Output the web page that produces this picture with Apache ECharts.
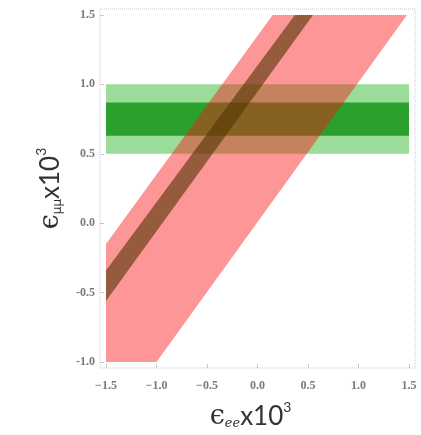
<!DOCTYPE html>
<html>
<head>
<meta charset="utf-8">
<script src="https://cdn.jsdelivr.net/npm/echarts@6/dist/echarts.min.js"></script>
<style>html,body{margin:0;padding:0;background:#fff}#c{width:421px;height:435px}</style>
</head>
<body>
<div id="c"></div>
<script>
// ---- data ----
const xTicks = [-1.5, -1.0, -0.5, 0.0, 0.5, 1.0, 1.5];
const yTicks = [-1.0, -0.5, 0.0, 0.5, 1.0, 1.5];
const xRange = [-1.5594, 1.5594];
const yRange = [-1.0426, 1.5426];
const bandX = [-1.5, 1.5];
const lightGreenBand = [0.5, 1.0];
const darkGreenBand = [0.63, 0.87];
const pinkRegion = [[-1.5, -1.0], [-1.0, -1.0], [1.48, 1.5], [0.15, 1.5], [-1.5, -0.15]];
const brownRegion = [[-1.5, -0.56], [0.55, 1.5], [0.37, 1.5], [-1.5, -0.34]];

function polySeries(name, pts, color, z) {
  return {
    name: name, type: 'custom', z: z,
    data: pts,
    renderItem: function (params, api) {
      if (params.dataIndex !== 0) return null;
      return {
        type: 'polygon',
        shape: { points: pts.map(p => api.coord(p)) },
        style: { fill: color }
      };
    },
    silent: true
  };
}
function bandPts(yb) {
  return [[bandX[0], yb[0]], [bandX[1], yb[0]], [bandX[1], yb[1]], [bandX[0], yb[1]]];
}

const chart = echarts.init(document.getElementById('c'), null, { renderer: 'canvas' });
const tickFont = { fontFamily: 'Liberation Serif', fontSize: 12, fontWeight: 'bold', color: '#7a7a7a' };
chart.setOption({
  animation: false,
  grid: { left: 100, right: 6, top: 9, bottom: 62, show: true, borderColor: '#c8c8c8', borderWidth: 1, borderType: 'dotted', backgroundColor: 'transparent' },
  xAxis: {
    type: 'value', min: xRange[0], max: xRange[1],
    axisLine: { show: false, onZero: false },
    splitLine: { show: false },
    axisTick: { show: true, inside: true, length: 4, customValues: xTicks, lineStyle: { color: '#c8c8c8' } },
    axisLabel: Object.assign({ customValues: xTicks, margin: 12, formatter: v => (v < 0 ? '−' : '') + Math.abs(v).toFixed(1) }, tickFont),
    name: '{e|ϵ}{s|ee}{t|x10}{p|3}',
    nameLocation: 'middle', nameGap: 32,
    nameTextStyle: {
      padding: [0, 14, 0, 0],
      rich: {
        e: { fontFamily: 'DejaVu Serif', fontSize: 27, color: '#333', lineHeight: 30, verticalAlign: 'bottom' },
        s: { fontFamily: 'DejaVu Serif', fontStyle: 'italic', fontSize: 13, color: '#333', lineHeight: 13, verticalAlign: 'bottom' },
        t: { fontFamily: 'Lato', fontSize: 26, color: '#333', lineHeight: 30, verticalAlign: 'bottom' },
        p: { fontFamily: 'Lato', fontSize: 14, color: '#333', lineHeight: 14, verticalAlign: 'top' }
      }
    }
  },
  yAxis: {
    type: 'value', min: yRange[0], max: yRange[1],
    axisLine: { show: false, onZero: false },
    splitLine: { show: false },
    axisTick: { show: true, inside: true, length: 4, customValues: yTicks, lineStyle: { color: '#c8c8c8' } },
    axisLabel: Object.assign({ customValues: yTicks, margin: 5, formatter: v => v.toFixed(1) }, tickFont),
    name: '{e|ϵ}{s|μμ}{t|x10}{p|3}',
    nameLocation: 'middle', nameGap: 36, nameRotate: 90,
    nameTextStyle: {
      rich: {
        e: { fontFamily: 'DejaVu Serif', fontSize: 27, color: '#333', lineHeight: 30, verticalAlign: 'bottom' },
        s: { fontFamily: 'DejaVu Sans', fontSize: 12, color: '#333', lineHeight: 13, verticalAlign: 'bottom' },
        t: { fontFamily: 'Lato', fontSize: 26, color: '#333', lineHeight: 30, verticalAlign: 'bottom' },
        p: { fontFamily: 'Lato', fontSize: 14, color: '#333', lineHeight: 14, verticalAlign: 'top' }
      }
    }
  },
  series: [
    polySeries('light green', bandPts(lightGreenBand), '#9bdc9b', 1),
    polySeries('dark green', bandPts(darkGreenBand), '#2ca02c', 2),
    polySeries('pink', pinkRegion, 'rgba(250,16,16,0.44)', 3),
    polySeries('brown', brownRegion, 'rgba(85,55,5,0.62)', 4)
  ]
});
</script>
</body>
</html>
